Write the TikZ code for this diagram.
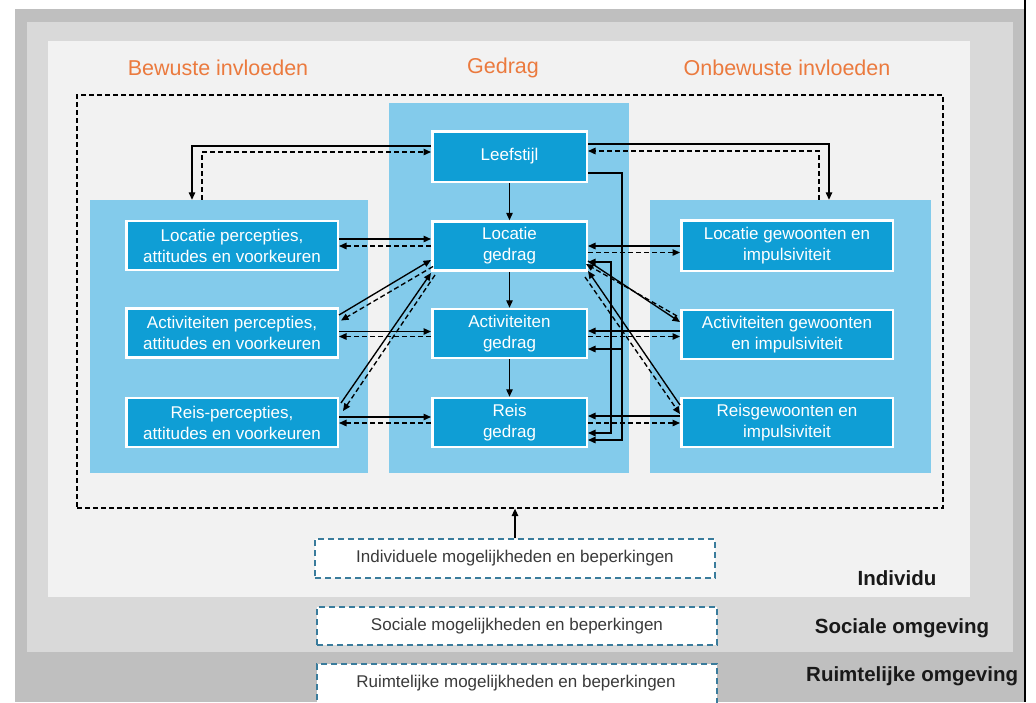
\documentclass[tikz,border=0pt]{standalone}
\usepackage{fontspec}
\setmainfont{Liberation Sans}
\usetikzlibrary{arrows.meta,calc}
\definecolor{outergray}{HTML}{BFBFBF}
\definecolor{midgray}{HTML}{D9D9D9}
\definecolor{innergray}{HTML}{F2F2F2}
\definecolor{panelblue}{HTML}{83CBEB}
\definecolor{boxblue}{HTML}{0F9ED5}
\definecolor{hdrorange}{HTML}{EB7A3E}
\definecolor{limblue}{HTML}{3A7C9C}
\definecolor{textgray}{HTML}{3A3A3A}
\tikzset{
  sol/.style={draw=black, line width=1.35pt, -{Triangle[length=7.5pt,width=6.5pt]}},
  solboth/.style={sol, {Triangle[length=7.5pt,width=6.5pt]}-{Triangle[length=7.5pt,width=6.5pt]}},
  das/.style={sol, dash pattern=on 5pt off 3pt},
  dbox/.style={rectangle, fill=boxblue, draw=white, line width=2.5pt, text=white, align=center,
    font=\fontsize{17}{21}\selectfont, inner sep=0pt, minimum width=211.5pt, minimum height=49pt},
  cbox/.style={dbox, minimum width=154.5pt},
  panel/.style={rectangle, fill=panelblue, inner sep=0pt},
  hdr/.style={text=hdrorange, font=\fontsize{21.5}{25}\selectfont, inner sep=0pt},
  limbox/.style={rectangle, fill=white, draw=limblue, line width=1.3pt, dash pattern=on 6pt off 4pt,
    minimum width=400pt, text=textgray, font=\fontsize{17}{20}\selectfont, inner sep=0pt},
  lbl/.style={font=\bfseries\fontsize{20.5}{24}\selectfont, text=black!90, inner sep=0pt}
}
\begin{document}
\begin{tikzpicture}[x=1pt,y=-1pt]
\useasboundingbox (0,0) rectangle (1036,702);
\fill[white] (0,0) rectangle (1036,702);
% layers
\fill[outergray] (15,9) rectangle (1024,702);
\fill[midgray] (27,22) rectangle (1013,652);
\fill[innergray] (48,41) rectangle (970,597);

% headers
\node[hdr] (h1) at (218,68) {Bewuste invloeden};
\node[hdr] (h2) at (503,68) {Gedrag};
\node[hdr] (h3) at (787,68) {Onbewuste invloeden};

% dashed influence frame
\node[rectangle, draw=black, line width=1.2pt, dash pattern=on 5pt off 3pt, inner sep=0pt,
  minimum width=866pt, minimum height=413pt] (infl) at (510,301.5) {};

% panels
\node[panel, minimum width=278pt, minimum height=273pt] (lpan) at (229,336.5) {};
\node[panel, minimum width=240pt, minimum height=370pt] (cpan) at (509,288) {};
\node[panel, minimum width=281pt, minimum height=273pt] (rpan) at (790.5,336.5) {};

% boxes
\node[dbox] (lp1) at (232,245.5) {Locatie percepties,\\attitudes en voorkeuren};
\node[dbox] (lp2) at (232,333) {Activiteiten percepties,\\attitudes en voorkeuren};
\node[dbox] (lp3) at (232,422.5) {Reis-percepties,\\attitudes en voorkeuren};
\node[cbox, minimum height=50.5pt] (lf) at (509.5,156.5) {Leefstijl};
\node[cbox] (cg1) at (509.5,246) {Locatie\\gedrag};
\node[cbox] (cg2) at (509.5,333.5) {Activiteiten\\gedrag};
\node[cbox] (cg3) at (509.5,422.5) {Reis\\gedrag};
\node[dbox, minimum height=50.5pt] (rg1) at (787,245.5) {Locatie gewoonten en\\impulsiviteit};
\node[dbox] (rg2) at (787,334.5) {Activiteiten gewoonten\\en impulsiviteit};
\node[dbox] (rg3) at (787,422.5) {Reisgewoonten en\\impulsiviteit};

% bottom boxes
\node[limbox, minimum height=39pt] (ind) at (515,558.5) {Individuele mogelijkheden en beperkingen};
\node[limbox, minimum height=38pt] (soc) at (517,626) {Sociale mogelijkheden en beperkingen};
\node[limbox, minimum height=40pt] (rui) at (517,684) {};
\node[text=textgray, font=\fontsize{17}{20}\selectfont, inner sep=0pt] (ruit) at (516,683) {Ruimtelijke mogelijkheden en beperkingen};

% labels
\node[lbl] (l1) at (897,578) {Individu};
\node[lbl] (l2) at (902,628) {Sociale omgeving};
\node[lbl, anchor=west] (l3) at (806,676) {Ruimtelijke omgeving};
\fill[white] (1026,0) rectangle (1036,702);
\draw[black, line width=2pt] (1025,0) -- (1025,702);

% Leefstijl loops
\draw[sol] (lf.west |- 0,146) -| (192,0 |- lpan.north);
\draw[das] (202,0 |- lpan.north) |- (lf.west |- 0,152);
\draw[sol] (lf.east |- 0,144) -| (829,0 |- rpan.north);
\draw[das] (819,0 |- rpan.north) |- (lf.east |- 0,151);

% vertical chain
\draw[sol] (lf.south) -- (cg1.north);
\draw[sol] (cg1.south) -- (cg2.north);
\draw[sol] (cg2.south) -- (cg3.north);

% Leefstijl to Activiteiten / Reis gedrag
\coordinate (j1) at (622,349);
\draw[sol] (lf.east |- 0,173) -- (622,173) -- (622,440) -- (cg3.east |- 0,440);
\draw[sol] (j1) -- (cg2.east |- j1);
% Locatie gedrag <-> Reis gedrag
\draw[solboth] (cg1.east |- 0,262) -- (611,262) -- (611,433) -- (cg3.east |- 0,433);

% left horizontals
\draw[sol] (lp1.east |- 0,239) -- (cg1.west |- 0,239);
\draw[das] (cg1.west |- 0,246) -- (lp1.east |- 0,246);
\draw[sol] (lp2.east |- 0,331.5) -- (cg2.west |- 0,331.5);
\draw[das] (cg2.west |- 0,336.5) -- (lp2.east |- 0,336.5);
\draw[sol] (lp3.east |- 0,417) -- (cg3.west |- 0,417);
\draw[das] (cg3.west |- 0,423) -- (lp3.east |- 0,423);

% left diagonals
\draw[sol] (lp2.east |- 0,315) -- (cg1.west |- 0,260);
\draw[das] ([xshift=2pt]cg1.west |- 0,266.5) -- ([xshift=2pt]lp2.east |- 0,320.5);
\draw[sol] ([xshift=2pt]lp3.east |- 0,403) -- (cg1.west |- 0,273);
\draw[das] ([xshift=4pt]cg1.west |- 0,275) -- ([xshift=4pt]lp3.east |- 0,411);

% right horizontals
\draw[sol] (rg1.west |- 0,246) -- (cg1.east |- 0,246);
\draw[das] (cg1.east |- 0,252.5) -- (rg1.west |- 0,252.5);
\draw[sol] (rg2.west |- 0,331) -- (cg2.east |- 0,331);
\draw[das] (cg2.east |- 0,336.5) -- (rg2.west |- 0,336.5);
\draw[sol] (rg3.west |- 0,416) -- (cg3.east |- 0,416);
\draw[das] (cg3.east |- 0,423) -- (rg3.west |- 0,423);

% right diagonals
\draw[sol] (cg1.east |- 0,261) -- (rg2.west |- 0,322);
\draw[das] ([xshift=-3pt]rg2.west |- 0,316) -- ([xshift=-2pt]cg1.east |- 0,264);
\draw[sol] (rg3.west |- 0,405) -- (cg1.east |- 0,271);
\draw[das] ([xshift=-3pt]cg1.east |- 0,277) -- (rg3.west |- 0,414);

% bottom arrow
\draw[sol] (ind.north) -- (ind.north |- infl.south);
\end{tikzpicture}
\end{document}
